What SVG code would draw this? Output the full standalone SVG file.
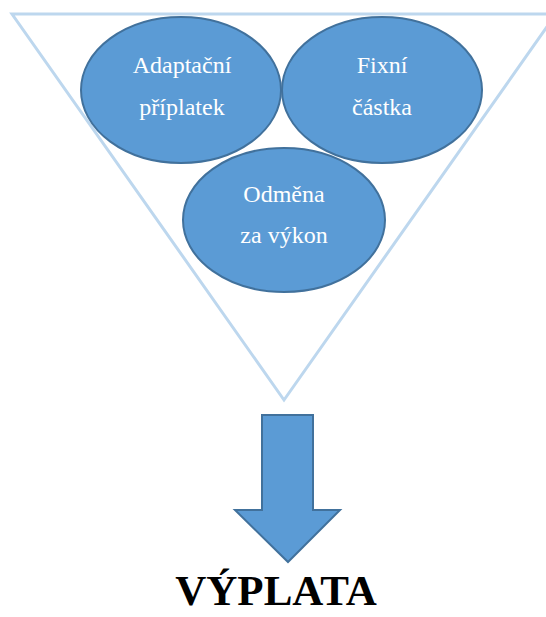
<svg xmlns="http://www.w3.org/2000/svg" width="546" height="617" viewBox="0 0 546 617">
  <style>
    .funnel { fill: none; stroke: #bdd7ee; stroke-width: 3; }
    .bubble { fill: #5b9bd5; stroke: #41719c; stroke-width: 2; }
    .label { font-family: "Liberation Serif", "Times New Roman", serif; font-size: 24px; fill: #ffffff; text-anchor: middle; }
    .result { font-family: "Liberation Serif", "Times New Roman", serif; font-size: 43px; font-weight: bold; fill: #000000; text-anchor: middle; }
  </style>
  <rect width="546" height="617" fill="#ffffff"/>

  <!-- funnel outline -->
  <g id="funnel">
    <polygon class="funnel" points="12,14 556,14 284,400"/>
  </g>

  <g id="adaptacni-priplatek">
    <ellipse class="bubble" cx="181" cy="90" rx="100" ry="73"/>
    <text class="label" x="182" y="73">Adaptační</text>
    <text class="label" x="182" y="115">příplatek</text>
  </g>

  <g id="fixni-castka">
    <ellipse class="bubble" cx="382" cy="90" rx="100" ry="73"/>
    <text class="label" x="382" y="73">Fixní</text>
    <text class="label" x="382" y="115">částka</text>
  </g>

  <g id="odmena-za-vykon">
    <ellipse class="bubble" cx="284" cy="220" rx="101" ry="72"/>
    <text class="label" x="284" y="202">Odměna</text>
    <text class="label" x="284" y="243">za výkon</text>
  </g>

  <!-- down arrow into the result -->
  <g id="connectors">
    <polygon class="bubble" points="262,415 313,415 313,510 340,510 288,562 235,510 262,510"/>
  </g>

  <g id="vyplata">
    <text class="result" x="276" y="605">VÝPLATA</text>
  </g>
</svg>
